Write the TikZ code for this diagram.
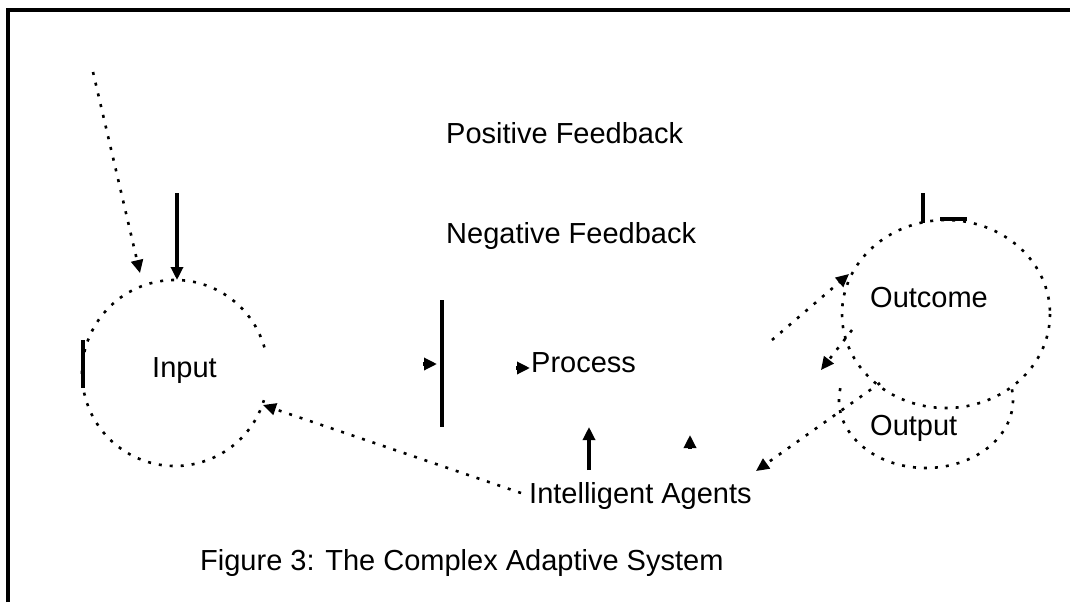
\documentclass[tikz,border=0pt]{standalone}
\usepackage{fontspec}
\setmainfont{Liberation Sans}
\usetikzlibrary{arrows.meta}
\begin{document}
\begin{tikzpicture}[x=1pt,y=-1pt,
  lbl/.style={anchor=base west,inner sep=0pt,font=\fontsize{29}{34}\selectfont},
  dotline/.style={line width=2.6pt,dash pattern=on 3pt off 8pt},
  solidline/.style={line width=3.2pt},
  head/.style={-{Triangle[length=13pt,width=12pt]}},
  dotarrow/.style={dotline,head},
  solidarrow/.style={solidline,head}]
\useasboundingbox (0,0) rectangle (1070,602);
\fill[white] (0,0) rectangle (1070,602);
% frame
\draw[line width=4pt] (8,602) -- (8,10) -- (1070,10);
% texts
\node[lbl] (pos) at (446,143) {Positive Feedback};
\node[lbl] (neg) at (446,243) {Negative Feedback};
\node[lbl] (inp) at (152,377) {Input};
\node[lbl] (proc) at (531,372) {Process};
\node[lbl] (ia) at (529,503) {Intelligent Agents};
\node[lbl] (outc) at (870,307) {Outcome};
\node[lbl] (outp) at (870,435) {Output};
\node[lbl] (cap) at (200,570) {Figure 3: The Complex Adaptive System};
% Input circle
\draw[dotline] (175,373) ++(-16:93) arc[start angle=-16,end angle=-343,radius=93];
\draw[solidline] (83,340) -- (83,388);
% Outcome ellipse
\draw[dotline] (946,314) ellipse[x radius=104,y radius=94];
\draw[solidline] (923,193) -- (923,223);
\draw[solidline] (940,219) -- (967,219);
% Output ellipse (lower part)
\draw[dotline] (926,400) ++(190:87 and 68) arc[start angle=190,end angle=-10,x radius=87,y radius=68];
% coordinates
\coordinate (a1s) at (93,72);   \coordinate (a1e) at (140,273);
\coordinate (a2s) at (177,193); \coordinate (a2e) at (177,280);
\coordinate (v1) at (442,300);  \coordinate (v2) at (442,427);
\coordinate (t1s) at (423,364); \coordinate (t1e) at (437,364);
\coordinate (t2s) at (516,368); \coordinate (t2e) at (530,368);
\coordinate (u1s) at (589,470); \coordinate (u1e) at (589,427);
\coordinate (u2s) at (690,449); \coordinate (u2e) at (690,435);
\coordinate (iaL) at (521,493); \coordinate (inR) at (263,405);
\coordinate (ocB) at (880,383); \coordinate (iaR) at (756,471);
\coordinate (ocS) at (772,340); \coordinate (ocT) at (849,274);
\coordinate (smS) at (852,330); \coordinate (smT) at (821,370);
% connectors
\draw[dotarrow] (a1s) -- (a1e);
\draw[solidarrow] (a2s) -- (a2e);
\draw[solidline] (v1) -- (v2);
\draw[solidarrow] (t1s) -- (t1e);
\draw[solidarrow] (t2s) -- (t2e);
\draw[solidarrow] (u1s) -- (u1e);
\draw[solidarrow] (u2s) -- (u2e);
\draw[dotarrow] (iaL) -- (inR);
\draw[dotarrow] (ocB) -- (iaR);
\draw[dotarrow] (ocS) -- (ocT);
\draw[dotarrow] (smS) -- (smT);
\end{tikzpicture}
\end{document}
